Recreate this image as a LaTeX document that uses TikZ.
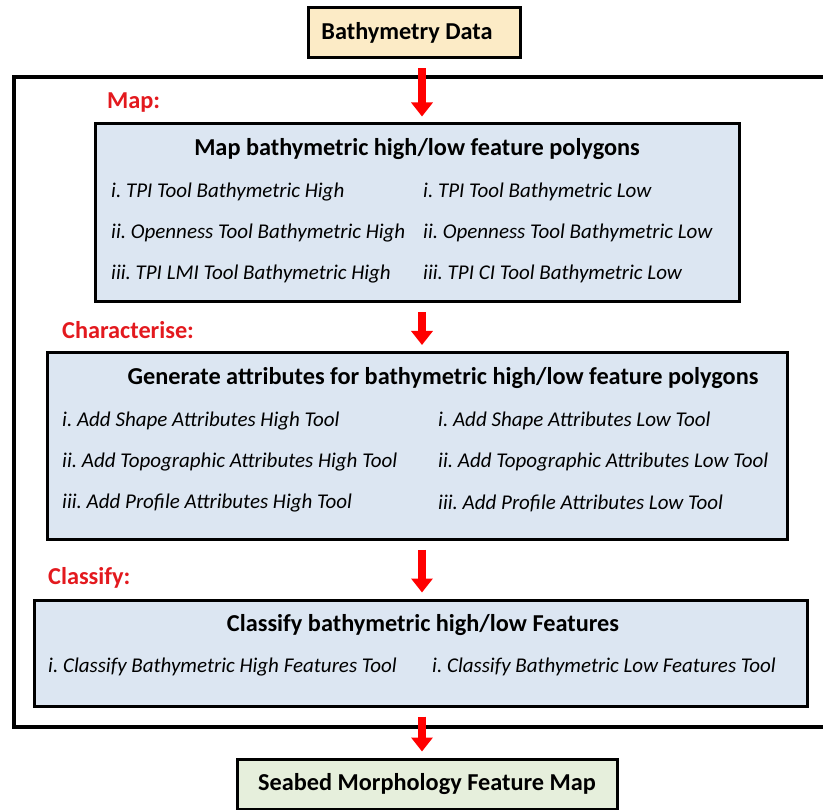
\documentclass[tikz,border=0pt]{standalone}
\usepackage{fontspec}
\setmainfont{Carlito}
\usepackage{xcolor}
\usetikzlibrary{positioning, arrows.meta}
\definecolor{panelblue}{HTML}{DCE6F2}
\definecolor{datatan}{HTML}{FCEBC6}
\definecolor{mapgreen}{HTML}{E6EFDC}
\definecolor{steplabel}{HTML}{E3191E}
\frenchspacing

\begin{document}
\begin{tikzpicture}[
    x=1pt, y=-1pt,
    every node/.style={inner sep=0pt},
    panel/.style={draw, line width=3pt, fill=panelblue},
    endbox/.style={draw, line width=3pt, font=\fontsize{24.3}{28}\selectfont\bfseries},
    head/.style={font=\fontsize{24.3}{28}\selectfont\bfseries},
    item/.style={anchor=west, font=\fontsize{21}{25}\selectfont\itshape},
    stage/.style={anchor=west, text=steplabel, font=\fontsize{24.3}{28}\selectfont\bfseries},
    flow/.style={-{Triangle[width=21pt,length=14pt]}, red, line width=8pt,
        shorten <=9pt, shorten >=6pt}
]
\useasboundingbox (0,0) rectangle (823,810);

% outer frame (runs past the right edge)
\draw[line width=4pt] (14,77) rectangle (850,727);

% input and output
\node[endbox, fill=datatan, minimum width=212pt, minimum height=50pt] (bathy) at (414,33) {};
\node[head] (bathytext) at (407,33) {Bathymetry Data};
\node[endbox, fill=mapgreen, minimum width=380pt, minimum height=50pt] (seabed) at (427,784) {Seabed Morphology Feature Map};

% Map
\node[stage] (maplabel) at (107,103) {Map:};
\node[panel, minimum width=644pt, minimum height=178pt] (map) at (417,213) {};
\node[head] (maphead) at (417,149) {Map bathymetric high/low feature polygons};
\node[item] (mapA) at (111,192) {i. TPI Tool Bathymetric High};
\node[item] (mapB) at (111,233) {ii. Openness Tool Bathymetric High};
\node[item] (mapC) at (111,274) {iii. TPI LMI Tool Bathymetric High};
\node[item] (mapD) at (423,192) {i. TPI Tool Bathymetric Low};
\node[item] (mapE) at (423,233) {ii. Openness Tool Bathymetric Low};
\node[item] (mapF) at (423,274) {iii. TPI CI Tool Bathymetric Low};

% Characterise
\node[stage] (charlabel) at (62,330) {Characterise:};
\node[panel, minimum width=740pt, minimum height=187pt] (attr) at (417,446) {};
\node[head] (attrhead) at (443,378) {Generate attributes for bathymetric high/low feature polygons};
\node[item] (attrA) at (62,421) {i. Add Shape Attributes High Tool};
\node[item] (attrB) at (62,462) {ii. Add Topographic Attributes High Tool};
\node[item] (attrC) at (62,503) {iii. Add Profile Attributes High Tool};
\node[item] (attrD) at (438,421) {i. Add Shape Attributes Low Tool};
\node[item] (attrE) at (438,462) {ii. Add Topographic Attributes Low Tool};
\node[item] (attrF) at (438,503) {iii. Add Profile Attributes Low Tool};

% Classify
\node[stage] (classlabel) at (48,578) {Classify:};
\node[panel, minimum width=773pt, minimum height=106pt] (classify) at (421,653) {};
\node[head] (classhead) at (423,625) {Classify bathymetric high/low Features};
\node[item] (classA) at (48,667) {i. Classify Bathymetric High Features Tool};
\node[item] (classB) at (432,667) {i. Classify Bathymetric Low Features Tool};

% red arrows down the middle
\coordinate (axis) at (422,0);
\draw[flow] (bathy.south -| axis) -- (map.north -| axis);
\draw[flow] (map.south -| axis) -- (attr.north -| axis);
\draw[flow] (attr.south -| axis) -- (classify.north -| axis);
\draw[flow] (classify.south -| axis) -- (seabed.north -| axis);

\end{tikzpicture}
\end{document}
